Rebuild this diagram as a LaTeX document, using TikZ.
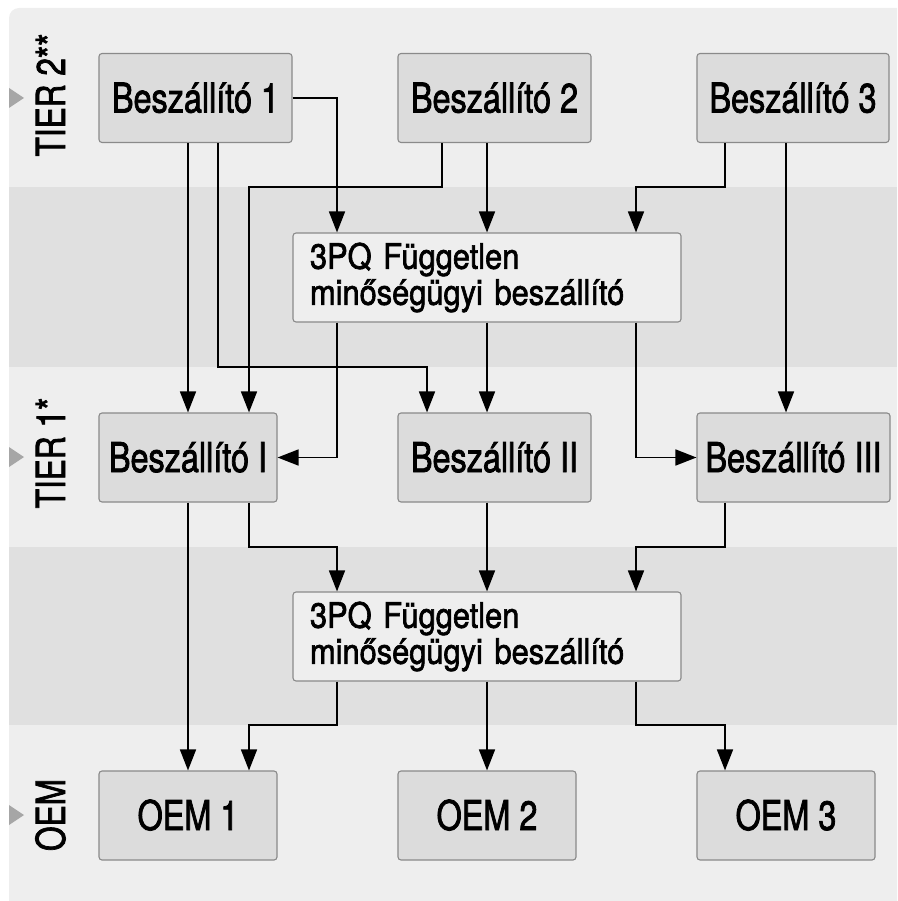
\documentclass[tikz,border=0pt]{standalone}
\usepackage{fontspec}
\setmainfont{TeX Gyre Heros}
\newfontfamily\boxfont[FakeStretch=0.79,FakeBold=1.8]{TeX Gyre Heros}
\newfontfamily\qfont[FakeStretch=0.88,FakeBold=1.8]{TeX Gyre Heros}
\usetikzlibrary{arrows.meta}
\definecolor{bglight}{HTML}{EEEEEE}
\definecolor{bgdark}{HTML}{E0E0E0}
\definecolor{boxfill}{HTML}{DCDCDC}
\definecolor{boxline}{HTML}{8A8A8A}
\definecolor{marker}{HTML}{A6A6A6}
\tikzset{
  supplier/.style={draw=boxline, fill=boxfill, line width=1.1pt, rounded corners=3pt,
    minimum height=89pt, inner sep=0pt, font=\boxfont\fontsize{41}{42}\selectfont,
    text height=29pt, text depth=0pt},
  quality/.style={draw=boxline, fill=bglight, line width=1.1pt, rounded corners=3pt,
    minimum height=89pt, text width=354pt, inner xsep=17pt, inner ysep=0pt, align=left,
    font=\qfont\fontsize{35}{36}\selectfont},
  tierlabel/.style={rotate=90, anchor=base, font=\boxfont\fontsize{40}{40}\selectfont},
  flow/.style={line width=1.6pt, -{Triangle[length=21pt,width=16pt]}},
}
\begin{document}
\begin{tikzpicture}[x=1pt,y=-1pt]
\useasboundingbox (0,0) rectangle (897,901);
% background and bands
\begin{scope}
  \clip (0,0) rectangle (897,901);
  \fill[bglight, rounded corners=10pt] (9,8) rectangle (930,930);
\end{scope}
\fill[bgdark] (9,187) rectangle (897,367);
\fill[bgdark] (9,547) rectangle (897,725);

% tier markers
\foreach \yy in {98,457,815} \fill[marker] (9,\yy-10) -- (24,\yy) -- (9,\yy+10) -- cycle;
\node[tierlabel] (t2) at (65,95) {TIER 2**};
\node[tierlabel] (t1) at (65,453) {TIER 1*};
\node[tierlabel] (to) at (65,815) {OEM};

% tier 2 suppliers
\node[supplier, minimum width=193pt] (B1) at (195.5,98) {Beszállító 1};
\node[supplier, minimum width=193pt] (B2) at (494.5,98) {Beszállító 2};
\node[supplier, minimum width=192pt] (B3) at (793,98) {Beszállító 3};
% quality suppliers
\node[quality] (Q1) at (487,277.5) {3PQ Független\\minőségügyi beszállító};
\node[quality] (Q2) at (487,636.5) {3PQ Független\\minőségügyi beszállító};
% tier 1 suppliers
\node[supplier, minimum width=178pt] (BI) at (188,457.5) {Beszállító I};
\node[supplier, minimum width=193pt] (BII) at (494.5,457.5) {Beszállító II};
\node[supplier, minimum width=193pt] (BIII) at (793.5,457.5) {Beszállító III};
% OEMs
\node[supplier, minimum width=178pt] (O1) at (188,815.5) {OEM 1};
\node[supplier, minimum width=178pt] (O2) at (487,815.5) {OEM 2};
\node[supplier, minimum width=178pt] (O3) at (786,815.5) {OEM 3};

% routing columns and rows
\coordinate (xa) at (188,0);
\coordinate (xb) at (218,0);
\coordinate (xc) at (249,0);
\coordinate (xd) at (337,0);
\coordinate (xj) at (427,0);
\coordinate (xe) at (442,0);
\coordinate (xf) at (487,0);
\coordinate (xg) at (636,0);
\coordinate (xh) at (725,0);
\coordinate (xi) at (786,0);
\coordinate (ya) at (0,187);
\coordinate (yb) at (0,367);
\coordinate (yc) at (0,547);
\coordinate (yd) at (0,725);

% tier 2 -> quality / tier 1
\draw[flow] (B1.east) -| (Q1.north -| xd);
\draw[flow] (B1.south -| xa) -- (BI.north -| xa);
\draw[flow] (B1.south -| xb) -- (xb |- yb) -| (BII.north -| xj);
\draw[flow] (B2.south -| xe) -- (xe |- ya) -| (BI.north -| xc);
\draw[flow] (B2.south -| xf) -- (Q1.north -| xf);
\draw[flow] (B3.south -| xh) -- (xh |- ya) -| (Q1.north -| xg);
\draw[flow] (B3.south -| xi) -- (BIII.north -| xi);
% quality -> tier 1
\draw[flow] (Q1.south -| xd) |- (BI.east);
\draw[flow] (Q1.south -| xf) -- (BII.north -| xf);
\draw[flow] (Q1.south -| xg) |- (BIII.west);
% tier 1 -> quality / OEM
\draw[flow] (BI.south -| xa) -- (O1.north -| xa);
\draw[flow] (BI.south -| xc) -- (xc |- yc) -| (Q2.north -| xd);
\draw[flow] (BII.south -| xf) -- (Q2.north -| xf);
\draw[flow] (BIII.south -| xh) -- (xh |- yc) -| (Q2.north -| xg);
% quality -> OEM
\draw[flow] (Q2.south -| xd) -- (xd |- yd) -| (O1.north -| xc);
\draw[flow] (Q2.south -| xf) -- (O2.north -| xf);
\draw[flow] (Q2.south -| xg) -- (xg |- yd) -| (O3.north -| xh);
\end{tikzpicture}
\end{document}
